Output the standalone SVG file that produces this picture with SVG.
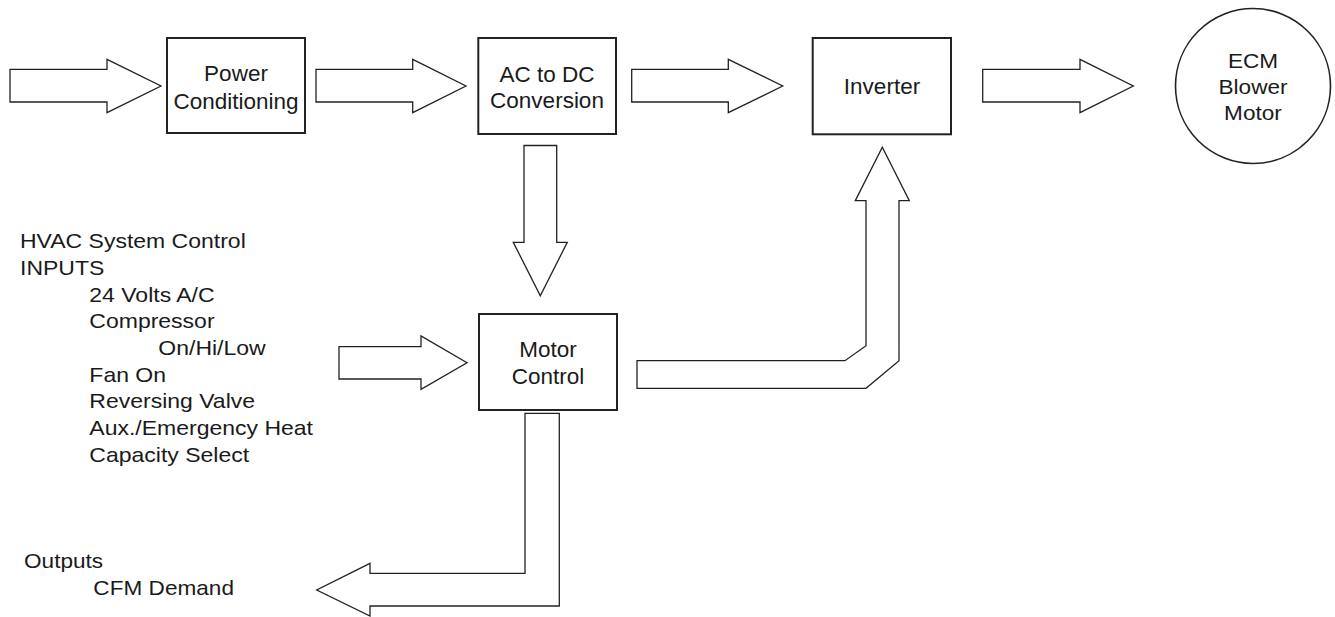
<svg xmlns="http://www.w3.org/2000/svg" width="1335" height="617" viewBox="0 0 1335 617">
<style>
.box{fill:#fff;stroke:#222;stroke-width:2}
.arr{fill:#fff;stroke:#222;stroke-width:1.3;stroke-linejoin:miter}
.lbl{font-family:"Liberation Sans",Arial,sans-serif;font-size:22.5px;fill:#1a1a1a;text-anchor:middle}
.txt{font-family:"Liberation Sans",Arial,sans-serif;font-size:20px;fill:#1a1a1a}
</style>
<rect width="1335" height="617" fill="#fff"/>
<g id="connectors">
<polygon class="arr" points="10,69.3 107,69.3 107,59.3 161,86 107,112.7 107,102 10,102"/>
<polygon class="arr" points="316,69.3 412.7,69.3 412.7,59.3 466,86 412.7,112.7 412.7,102 316,102"/>
<polygon class="arr" points="631.7,69.3 728.3,69.3 728.3,59.3 782.7,86 728.3,112.7 728.3,102 631.7,102"/>
<polygon class="arr" points="982.7,69.3 1080,69.3 1080,59.3 1133.3,86 1080,112.7 1080,102 982.7,102"/>
<polygon class="arr" points="524,145.5 556.7,145.5 556.7,242.3 567.3,242.3 540.3,295.7 513.3,242.3 524,242.3"/>
<polygon class="arr" points="339,346.7 421,346.7 421,336 467,362.7 421,389.3 421,379 339,379"/>
<polygon class="arr" points="637,360.7 845,360.7 866,345.7 866,200.7 855.3,200.7 882.3,147.3 909.3,200.7 899,200.7 899,360.7 866,388.3 637,388.3"/>
<polygon class="arr" points="525,413.3 559.3,413.3 559.3,606 370,606 370,616 316.7,590 370,563.3 370,573.3 525,573.3"/>
</g>
<g id="power-conditioning">
<rect class="box" x="167" y="38" width="138" height="95"/>
<text class="lbl" x="236" y="81">Power</text>
<text class="lbl" x="236" y="109">Conditioning</text>
</g>
<g id="ac-dc">
<rect class="box" x="478.3" y="38" width="137.7" height="96"/>
<text class="lbl" x="547" y="82">AC to DC</text>
<text class="lbl" x="547" y="108">Conversion</text>
</g>
<g id="inverter">
<rect class="box" x="812.7" y="38" width="138.3" height="96.3"/>
<text class="lbl" x="882" y="94">Inverter</text>
</g>
<g id="ecm-motor">
<circle cx="1253" cy="86" r="77.5" fill="#fff" stroke="#222" stroke-width="1.6"/>
<g transform="matrix(1.13,0,0,1,1253,0)">
<text class="txt" x="0" y="67.7" text-anchor="middle">ECM</text>
<text class="txt" x="0" y="94" text-anchor="middle">Blower</text>
<text class="txt" x="0" y="120" text-anchor="middle">Motor</text>
</g>
</g>
<g id="motor-control">
<rect class="box" x="479" y="314" width="138" height="96"/>
<text class="lbl" x="548" y="357">Motor</text>
<text class="lbl" x="548" y="384">Control</text>
</g>
<g id="inputs" transform="matrix(1.15,0,0,1,20,0)">
<text class="txt" x="0" y="248.3">HVAC System Control</text>
<text class="txt" x="0" y="275">INPUTS</text>
<text class="txt" x="60.3" y="301.7">24 Volts A/C</text>
<text class="txt" x="60.3" y="328.3">Compressor</text>
<text class="txt" x="120.3" y="355">On/Hi/Low</text>
<text class="txt" x="60.3" y="381.7">Fan On</text>
<text class="txt" x="60.3" y="408.3">Reversing Valve</text>
<text class="txt" x="60.3" y="435">Aux./Emergency Heat</text>
<text class="txt" x="60.3" y="461.7">Capacity Select</text>
</g>
<g id="outputs" transform="matrix(1.13,0,0,1,24,0)">
<text class="txt" x="0" y="568.3">Outputs</text>
<text class="txt" x="61.4" y="595">CFM Demand</text>
</g>
</svg>
